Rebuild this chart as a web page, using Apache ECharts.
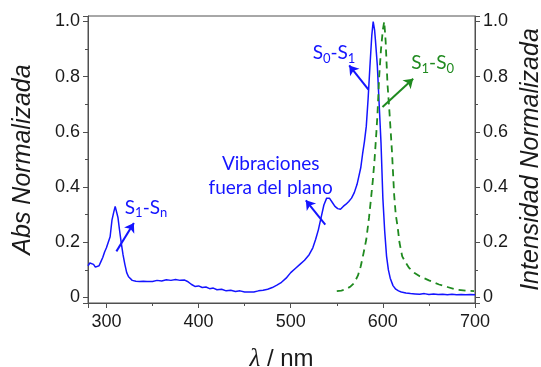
<!DOCTYPE html>
<html>
<head>
<meta charset="utf-8">
<script src="https://cdn.jsdelivr.net/npm/echarts@6/dist/echarts.min.js"></script>
<style>html,body{margin:0;padding:0;background:#fff}#c{width:541px;height:367px}</style>
</head>
<body>
<div id="c"></div>
<script>
// Absorption (blue, left axis): wavelength (nm) and normalized absorbance
const absWavelength = [280,282,284,286,288,290,292,294,296,298,300,302,304,305,306,308,309.5,311,312.5,314,316,318,320,322,324,326,328,330,332,334,336,338,340,342,344,346,350,355,360,365,370,375,380,385,388,392,396,400,404,408,412,416,420,425,430,435,440,445,450,455,460,465,470,475,480,485,490,495,500,505,510,515,520,524,527,530,533,536,539,542,545,548,551,554,557,560,563,566,569,572,574,576,578,580,582,584,586,588,589.5,591,592,594,596,598,600,602,604,606,608,611,614,617,620,625,630,635,640,645,650,655,660,665,670,675,680,685,690,695,700];
const absValues = [0.115,0.125,0.128,0.12,0.11,0.108,0.115,0.13,0.145,0.165,0.18,0.2,0.22,0.25,0.28,0.31,0.33,0.325,0.29,0.25,0.2,0.155,0.12,0.09,0.075,0.07,0.062,0.065,0.059,0.064,0.058,0.063,0.059,0.063,0.058,0.061,0.058,0.062,0.06,0.064,0.062,0.065,0.062,0.063,0.058,0.048,0.04,0.042,0.036,0.038,0.032,0.034,0.028,0.03,0.024,0.026,0.022,0.024,0.02,0.02,0.02,0.024,0.026,0.03,0.036,0.045,0.055,0.07,0.09,0.105,0.12,0.135,0.155,0.18,0.21,0.245,0.29,0.335,0.36,0.36,0.345,0.33,0.322,0.32,0.33,0.338,0.348,0.36,0.38,0.41,0.44,0.47,0.52,0.565,0.62,0.72,0.84,0.95,1.0,0.97,0.93,0.84,0.7,0.56,0.36,0.24,0.15,0.1,0.07,0.043,0.03,0.024,0.02,0.016,0.014,0.013,0.012,0.014,0.011,0.013,0.011,0.012,0.01,0.012,0.01,0.011,0.01,0.011,0.01];

// Emission (green dashed, right axis)
const emWavelength = [550,555,560,565,569,573,576,579,582,585,587,589,591,593,594.2,596,598,600,601.5,603,605,607,609.8,612.3,614,616,618,621,625,628.5,634,640,650,661,670,679,690,699];
const emValues = [0.023,0.025,0.03,0.04,0.053,0.08,0.113,0.16,0.21,0.29,0.354,0.42,0.5,0.6,0.667,0.8,0.9,0.97,1.0,0.93,0.775,0.68,0.534,0.37,0.3,0.257,0.2,0.149,0.125,0.107,0.09,0.077,0.062,0.047,0.038,0.029,0.025,0.023];

// Annotation texts and anchor points (data coordinates)
const labelTexts = ['{n|S}{s|1}{n|-S}{s|n}', '{n|Vibraciones}\n{n|fuera del plano}', '{n|S}{s|0}{n|-S}{s|1}', '{g|S}{gs|1}{g|-S}{gs|0}'];
const labelAnchors = [[343, 0.325], [478.3, 0.44], [547, 0.885], [654, 0.85]];
const arrowStarts = [[310.8, 0.167], [537.5, 0.264], [584.4, 0.753], [599.6, 0.69]];
const arrowEnds = [[329.8, 0.27], [516.4, 0.352], [563.5, 0.841], [632.9, 0.793]];

const BLUE = '#1414ff';
const GREEN = '#1f8a1f';
const AXIS = '#505050';
const annFont = 'Lato, "Open Sans", sans-serif';

const chart = echarts.init(document.getElementById('c'), null, {renderer: 'canvas'});

const yLabelFmt = v => (Math.abs(v) < 1e-9 ? '0' : (Math.abs(v * 5 - Math.round(v * 5)) < 1e-6 ? v.toFixed(1) : ''));

function yAxisCfg(pos, name, gap) {
  return {
    type: 'value', position: pos, min: -0.02, max: 1.02,
    name: name, nameLocation: 'middle', nameRotate: 90, nameGap: gap,
    nameTextStyle: {fontFamily: '"Liberation Sans", Arial, sans-serif', fontStyle: 'italic', fontSize: 25, color: '#1a1a1a'},
    axisLine: {show: true, onZero: false, lineStyle: {color: AXIS, width: 1}},
    axisTick: {show: true, inside: false, length: 5, lineStyle: {color: AXIS}},
    minorTick: {show: true, splitNumber: 2, length: 3, lineStyle: {color: AXIS}},
    splitLine: {show: false},
    axisLabel: {fontFamily: '"Liberation Sans", Arial, sans-serif', fontSize: 18, color: '#1a1a1a', margin: 8, formatter: yLabelFmt, showMinLabel: false, showMaxLabel: false}
  };
}

const rich = {
  n: {fontFamily: annFont, fontSize: 19, color: BLUE, lineHeight: 24},
  s: {fontFamily: annFont, fontSize: 13, color: BLUE, lineHeight: 24, verticalAlign: 'bottom', padding: [8, 0, 0, 0]},
  g: {fontFamily: annFont, fontSize: 19, color: GREEN, lineHeight: 24},
  gs: {fontFamily: annFont, fontSize: 13, color: GREEN, lineHeight: 24, verticalAlign: 'bottom', padding: [8, 0, 0, 0]}
};

function arrows(idx) {
  return idx.map(i => [{coord: arrowStarts[i]}, {coord: arrowEnds[i]}]);
}
function labels(idx) {
  return idx.map(i => ({
    coord: labelAnchors[i], symbol: 'circle', symbolSize: 0,
    label: {show: true, position: 'inside', formatter: labelTexts[i], rich: rich, align: 'center', verticalAlign: 'middle'}
  }));
}

chart.setOption({
  animation: false,
  backgroundColor: '#fff',
  grid: {left: 88, right: 66, top: 16, bottom: 64, show: true, borderColor: AXIS, borderWidth: 1, containLabel: false, outerBoundsMode: 'none'},
  xAxis: {
    type: 'value', min: 280, max: 700,
    name: '{i|λ} / nm', nameLocation: 'middle', nameGap: 44,
    nameTextStyle: {fontFamily: '"Liberation Sans", Arial, sans-serif', fontSize: 24, color: '#1a1a1a',
      rich: {i: {fontFamily: '"Liberation Serif", serif', fontStyle: 'italic', fontSize: 25, color: '#1a1a1a'}}},
    axisLine: {show: true, onZero: false, lineStyle: {color: AXIS, width: 1}},
    axisTick: {show: true, inside: false, length: 5, lineStyle: {color: AXIS}},
    minorTick: {show: true, splitNumber: 2, length: 3, lineStyle: {color: AXIS}},
    splitLine: {show: false},
    axisLabel: {fontFamily: '"Liberation Sans", Arial, sans-serif', fontSize: 18, color: '#1a1a1a', margin: 10, showMinLabel: false, showMaxLabel: true,
      formatter: v => (v % 100 === 0 ? String(v) : '')}
  },
  yAxis: [yAxisCfg('left', 'Abs Normalizada', 52), yAxisCfg('right', 'Intensidad Normalizada', 42)],
  series: [
    {
      type: 'line', yAxisIndex: 0, showSymbol: false, symbol: 'none',
      data: absWavelength.map((x, i) => [x, absValues[i]]),
      lineStyle: {color: BLUE, width: 1.5},
      markLine: {silent: true, symbol: ['none', 'arrow'], symbolSize: 9, label: {show: false},
        lineStyle: {color: BLUE, width: 2, type: 'solid'}, data: arrows([0, 1, 2])},
      markPoint: {silent: true, data: labels([0, 1, 2])}
    },
    {
      type: 'line', yAxisIndex: 1, showSymbol: false, symbol: 'none',
      data: emWavelength.map((x, i) => [x, emValues[i]]),
      lineStyle: {color: GREEN, width: 1.8, type: [7, 5]},
      markLine: {silent: true, symbol: ['none', 'arrow'], symbolSize: 9, label: {show: false},
        lineStyle: {color: GREEN, width: 2, type: 'solid'}, data: arrows([3])},
      markPoint: {silent: true, data: labels([3])}
    }
  ]
});
</script>
</body>
</html>
